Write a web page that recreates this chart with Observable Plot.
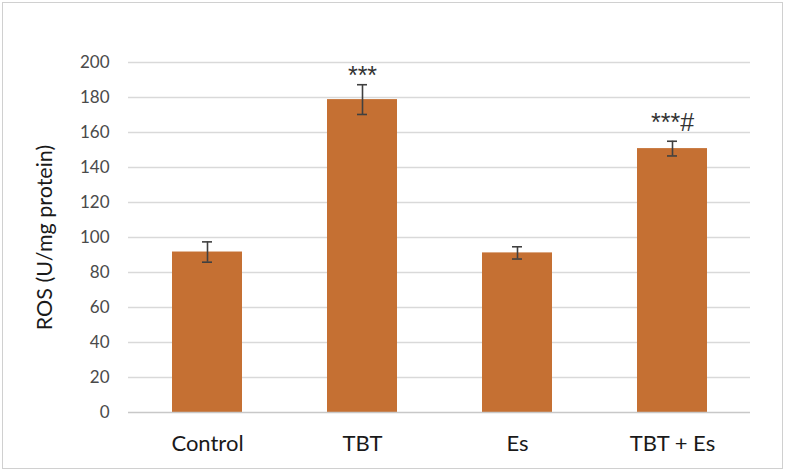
<!DOCTYPE html>
<html>
<head>
<meta charset="utf-8">
<script src="https://cdn.jsdelivr.net/npm/d3@7"></script>
<script src="https://cdn.jsdelivr.net/npm/@observablehq/plot@0.6"></script>
<style>
  html, body { margin: 0; padding: 0; background: #fff; }
  #wrap { position: relative; width: 787px; height: 474px; overflow: hidden; }
  #frame { position: absolute; left: 2px; top: 2px; width: 779px; height: 465px; border: 1.5px solid #d0d0d0; }
  #chart { position: absolute; left: 0; top: 0; }
</style>
</head>
<body>
<div id="wrap"><div id="frame"></div><div id="chart"></div></div>
<script>
const categories = ["Control", "TBT", "Es", "TBT + Es"];
const rosValues = [91.7, 178.8, 91.2, 150.8];
const rosErrors = [5.8, 8.5, 3.5, 4.2];
const significance = ["", "***", "", "***#"];
const yTicks = [0, 20, 40, 60, 80, 100, 120, 140, 160, 180, 200];

const data = categories.map((c, i) => ({
  group: c, value: rosValues[i], err: rosErrors[i], sig: significance[i]
}));

const font = "Lato, 'Open Sans', sans-serif";
const sigFont = "'Liberation Sans', Arial, sans-serif";

const chart = Plot.plot({
  width: 787,
  height: 474,
  marginLeft: 128,
  marginRight: 37,
  marginTop: 62,
  marginBottom: 62,
  style: { fontFamily: font, background: "transparent", color: "#404040" },
  x: { domain: categories, paddingInner: 0.55, paddingOuter: 0.275, label: null },
  y: { domain: [0, 200], ticks: yTicks, label: null },
  marks: [
    Plot.gridY(yTicks.filter(d => d > 0), { stroke: "#d9d9d9", strokeOpacity: 1, strokeWidth: 1.3 }),
    Plot.barY(data, { x: "group", y: "value", fill: "#c57033" }),
    Plot.ruleY([0], { stroke: "#c8c8c8", strokeWidth: 1.5 }),
    Plot.ruleX(data, { x: "group", y1: d => d.value - d.err, y2: d => d.value + d.err, stroke: "#404040", strokeWidth: 1.6 }),
    Plot.tickY(data, { x: "group", y: d => d.value - d.err, stroke: "#404040", strokeWidth: 1.6, insetLeft: 30, insetRight: 30 }),
    Plot.tickY(data, { x: "group", y: d => d.value + d.err, stroke: "#404040", strokeWidth: 1.6, insetLeft: 30, insetRight: 30 }),
    Plot.text(data.filter(d => d.sig === "***"), { x: "group", y: d => d.value + d.err, text: "sig", dy: -1, lineAnchor: "bottom", fontSize: 25, fontFamily: sigFont, fill: "#333", style: "letter-spacing:1.5px" }),
    Plot.text(data.filter(d => d.sig === "***#"), { x: "group", y: d => d.value + d.err, text: "sig", dy: -10, lineAnchor: "bottom", fontSize: 25, fontFamily: sigFont, fill: "#333" }),
    Plot.axisY({ ticks: yTicks, tickSize: 0, tickPadding: 19, fontSize: 17, fill: "#4a4a4a", label: null }),
    Plot.axisX({ tickSize: 0, tickPadding: 23, fontSize: 22, fill: "#1a1a1a", label: null }),
    Plot.text(["ROS (U/mg protein)"], { frameAnchor: "left", dx: -83, rotate: -90, textAnchor: "middle", fontSize: 21.5, fill: "#1a1a1a" })
  ]
});
document.getElementById("chart").appendChild(chart);
</script>
</body>
</html>
